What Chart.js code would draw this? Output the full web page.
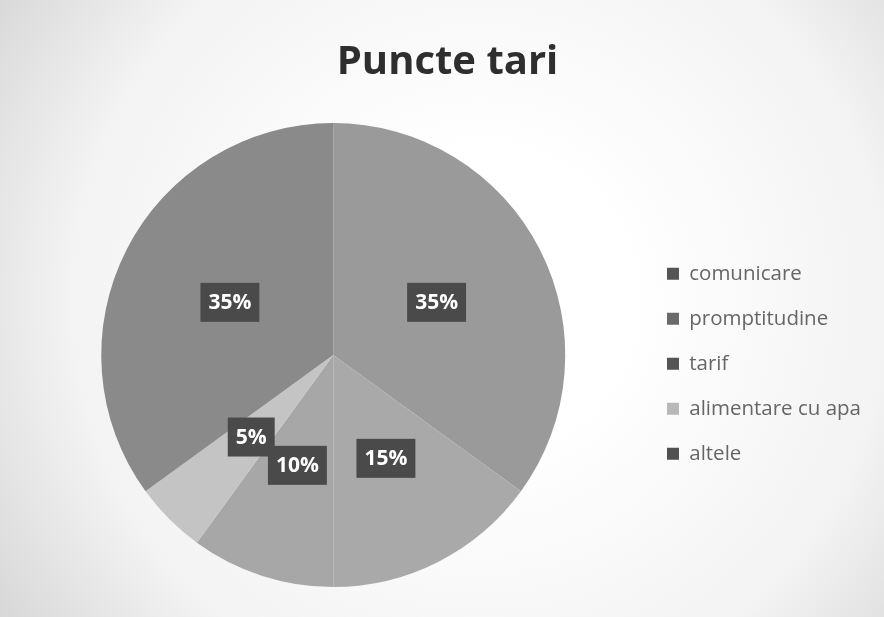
<!DOCTYPE html>
<html>
<head>
<meta charset="utf-8">
<script src="https://cdn.jsdelivr.net/npm/chart.js@4"></script>
<style>
  html, body { margin: 0; padding: 0; background: #fff; }
  #wrap { width: 884px; height: 617px; }
</style>
</head>
<body>
<div id="wrap"><canvas id="pieChart" width="884" height="617"></canvas></div>
<script>
const categories = ['comunicare', 'promptitudine', 'tarif', 'alimentare cu apa', 'altele'];
const percents = [35, 15, 10, 5, 35];

const sliceColors = ['#9a9a9a', '#a9a9a9', '#a7a7a7', '#c4c4c4', '#8a8a8a'];
const legendColors = ['#555555', '#6a6a6a', '#555555', '#b8b8b8', '#505050'];

// fundal gri tip scan, alb la centru
const paperBg = {
  id: 'paperBg',
  beforeDraw(chart) {
    const c = chart.ctx;
    const g = c.createRadialGradient(480, 300, 150, 480, 300, 620);
    g.addColorStop(0, '#ffffff');
    g.addColorStop(0.55, '#f3f3f3');
    g.addColorStop(1, '#d0d0d0');
    c.save();
    c.fillStyle = g;
    c.fillRect(0, 0, chart.width, chart.height);
    c.restore();
  }
};

// etichete cu procente pe fundal inchis
const boxLabels = {
  id: 'boxLabels',
  afterDatasetsDraw(chart) {
    const c = chart.ctx;
    const meta = chart.getDatasetMeta(0);
    c.save();
    c.font = 'bold 21px "Open Sans", sans-serif';
    c.textAlign = 'center';
    c.textBaseline = 'middle';
    meta.data.forEach((arc, i) => {
      const p = arc.tooltipPosition();
      const txt = percents[i] + '%';
      const w = c.measureText(txt).width + 16;
      const h = 39;
      c.fillStyle = '#4a4a4a';
      c.fillRect(p.x - w / 2, p.y - h / 2, w, h);
      c.fillStyle = '#ffffff';
      c.fillText(txt, p.x, p.y + 1);
    });
    c.restore();
  }
};

new Chart(document.getElementById('pieChart'), {
  type: 'pie',
  data: {
    labels: categories,
    datasets: [{
      data: percents,
      backgroundColor: sliceColors,
      borderWidth: 0
    }]
  },
  options: {
    responsive: false,
    animation: false,
    layout: { padding: { left: 24, right: 13, top: 0, bottom: 30 } },
    plugins: {
      title: {
        display: true,
        text: 'Puncte tari',
        color: '#2e2e2e',
        font: { family: '"Open Sans", sans-serif', size: 40, weight: 'bold' },
        padding: { top: 39, bottom: 36 }
      },
      legend: {
        position: 'right',
        title: {
          display: true,
          text: ' ',
          font: { size: 12 },
          padding: 63
        },
        labels: {
          color: '#2a2a2a',
          font: { family: '"Open Sans", sans-serif', size: 20.5 },
          boxWidth: 12,
          boxHeight: 12,
          padding: 24.5,
          generateLabels(chart) {
            return categories.map((name, i) => ({
              text: name,
              fillStyle: legendColors[i],
              strokeStyle: legendColors[i],
              lineWidth: 0,
              index: i
            }));
          }
        }
      },
      tooltip: { enabled: false }
    }
  },
  plugins: [paperBg, boxLabels]
});
</script>
</body>
</html>
